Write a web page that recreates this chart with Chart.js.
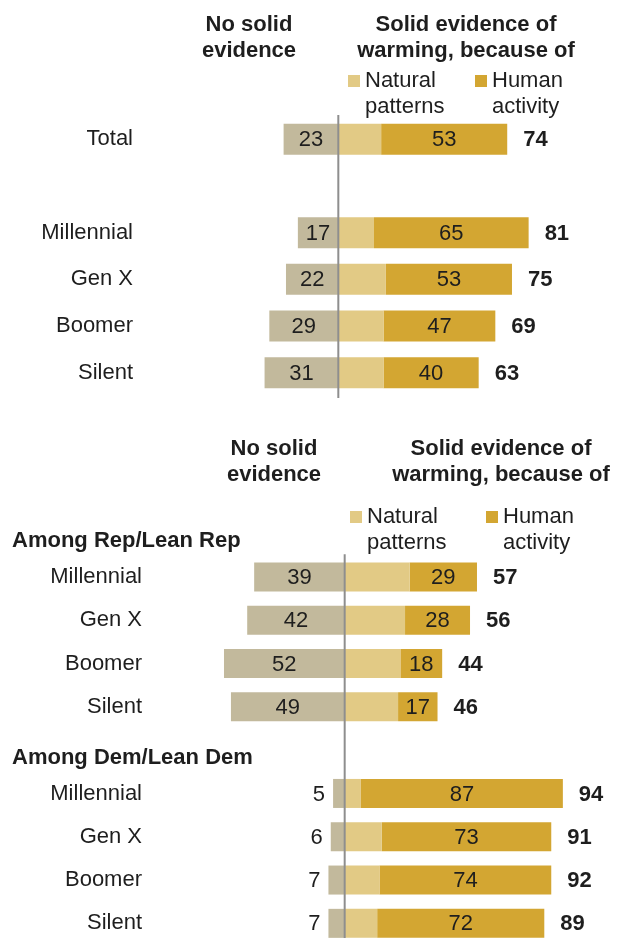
<!DOCTYPE html>
<html>
<head>
<meta charset="utf-8">
<script src="https://cdn.jsdelivr.net/npm/chart.js@4/dist/chart.umd.min.js"></script>
<style>
  html, body { margin: 0; padding: 0; background: #fff; overflow: hidden; }
  #wrap { position: relative; width: 623px; height: 938px; overflow: hidden; }
  #top { position: absolute; left: 0; top: 0; }
  #bottom { position: absolute; left: 0; top: 400px; }
</style>
</head>
<body>
<div id="wrap">
  <canvas id="top" width="623" height="400"></canvas>
  <canvas id="bottom" width="623" height="545"></canvas>
</div>
<script>
//Top panel: total and generations (empty row is the gap)
const topLabels = ["Total", "", "Millennial", "Gen X", "Boomer", "Silent"];
const topNoSolid = [23, null, 17, 22, 29, 31];
const topNatural = [18, null, 15, 20, 19, 19];
const topHuman = [53, null, 65, 53, 47, 40];
const topNet = [74, null, 81, 75, 69, 63];

//Bottom panel: by party (rows with no values are group headers)
const bottomLabels = ["Among Rep/Lean Rep", "Millennial", "Gen X", "Boomer", "Silent",
  "Among Dem/Lean Dem", "Millennial", "Gen X", "Boomer", "Silent"];
const bottomNoSolid = [null, 39, 42, 52, 49, null, 5, 6, 7, 7];
const bottomNatural = [null, 28, 26, 24, 23, null, 7, 16, 15, 14];
const bottomHuman = [null, 29, 28, 18, 17, null, 87, 73, 74, 72];
const bottomNet = [null, 57, 56, 44, 46, null, 94, 91, 92, 89];

//Column headings and legend text
const noSolidTitle = ["No solid", "evidence"];
const solidTitle = ["Solid evidence of", "warming, because of"];
const seriesNames = ["No solid evidence", "Natural patterns", "Human activity"];
const legendLines = [["Natural", "patterns"], ["Human", "activity"]];

const FONT = "'Liberation Sans', Arial, sans-serif";
const TEXT = "#1e1e1e";
const colors = ["#c2b99c", "#e2ca85", "#d3a632"];

//draws headings, legend, group headers, the zero line and the numbers
const panelPlugin = {
  id: "panel",
  afterDatasetsDraw(chart, args, opts) {
    const ctx = chart.ctx;
    const xs = chart.scales.x;
    const ys = chart.scales.y;
    const area = chart.chartArea;
    const slot = (area.bottom - area.top) / chart.data.labels.length;
    const zero = xs.getPixelForValue(0);
    ctx.save();

    //vertical line at zero
    const lineTop = ys.getPixelForValue(opts.lineFromRow) - slot / 2 - 1;
    ctx.strokeStyle = "#8e8e8e";
    ctx.lineWidth = 2;
    ctx.beginPath();
    ctx.moveTo(zero, lineTop);
    ctx.lineTo(zero, area.bottom + 2);
    ctx.stroke();

    //values inside (or beside) the segments
    ctx.fillStyle = TEXT;
    ctx.textBaseline = "middle";
    chart.data.datasets.forEach((ds, di) => {
      if (!ds.showValues) return;
      const meta = chart.getDatasetMeta(di);
      meta.data.forEach((bar, i) => {
        if (ds.data[i] == null) return;
        const left = Math.min(bar.x, bar.base);
        const right = Math.max(bar.x, bar.base);
        const txt = String(Math.abs(ds.data[i]));
        ctx.font = "22px " + FONT;
        if (right - left < 24) {
          ctx.textAlign = "right";
          ctx.fillText(txt, left - 8, bar.y + 1);
        } else {
          ctx.textAlign = "center";
          ctx.fillText(txt, (left + right) / 2, bar.y + 1);
        }
      });
    });

    //net totals to the right
    const last = chart.getDatasetMeta(chart.data.datasets.length - 1);
    ctx.font = "bold 22px " + FONT;
    ctx.textAlign = "left";
    opts.net.forEach((n, i) => {
      if (n == null) return;
      const bar = last.data[i];
      ctx.fillText(String(n), bar.x + 16, bar.y + 1);
    });

    //group headers
    ctx.textBaseline = "alphabetic";
    chart.data.labels.forEach((lab, i) => {
      if (lab && opts.noSolid[i] == null) {
        ctx.fillText(lab, 12, ys.getPixelForValue(i) + 13.5);
      }
    });

    //column headings
    ctx.textAlign = "center";
    const h = opts.head;
    noSolidTitle.forEach((t, k) => ctx.fillText(t, h.noSolidX, h.y + k * 26));
    solidTitle.forEach((t, k) => ctx.fillText(t, h.solidX, h.y + k * 26));

    //legend
    ctx.textAlign = "left";
    ctx.font = "22px " + FONT;
    [h.natX, h.humX].forEach((lx, k) => {
      ctx.fillStyle = colors[k + 1];
      ctx.fillRect(lx, h.legendY - 12, 12, 12);
      ctx.fillStyle = TEXT;
      legendLines[k].forEach((t, j) => ctx.fillText(t, lx + 17, h.legendY + j * 26));
    });
    ctx.restore();
  }
};

function makePanel(canvas, labels, noSolid, natural, human, net, o) {
  return new Chart(canvas, {
    type: "bar",
    plugins: [panelPlugin],
    data: {
      labels: labels,
      datasets: [
        { label: seriesNames[0], data: noSolid.map(v => v == null ? null : -v), backgroundColor: colors[0], showValues: true },
        { label: seriesNames[1], data: natural, backgroundColor: colors[1] },
        { label: seriesNames[2], data: human, backgroundColor: colors[2], showValues: true },
      ],
    },
    options: {
      indexAxis: "y",
      responsive: false,
      animation: false,
      layout: { padding: { top: o.padTop, bottom: o.padBottom, left: 0, right: 23 } },
      datasets: { bar: { barPercentage: o.barPct, categoryPercentage: 1, borderWidth: 0 } },
      scales: {
        x: { display: false, stacked: true, min: -80, max: 110 },
        y: {
          stacked: true,
          grid: { display: false, drawTicks: false },
          border: { display: false },
          ticks: {
            padding: o.axisWidth - o.labelRight,
            color: TEXT,
            font: { family: FONT, size: 22 },
            callback: function (v, i) { return noSolid[i] == null ? "" : this.getLabelForValue(v); },
          },
          afterFit: (s) => { s.width = o.axisWidth; s.paddingTop = 0; s.paddingBottom = 0; },
        },
      },
      plugins: {
        legend: { display: false },
        tooltip: { enabled: false },
        panel: { net: net, noSolid: noSolid, lineFromRow: o.lineFromRow, head: o.head },
      },
    },
  });
}

makePanel(document.getElementById("top"), topLabels, topNoSolid, topNatural, topHuman, topNet, {
  padTop: 116, padBottom: 4, barPct: 0.664, axisWidth: 148, labelRight: 133, lineFromRow: 0,
  head: { noSolidX: 249, solidX: 466, y: 31, legendY: 87, natX: 348, humX: 475 },
});

makePanel(document.getElementById("bottom"), bottomLabels, bottomNoSolid, bottomNatural, bottomHuman, bottomNet, {
  padTop: 112, padBottom: 0, barPct: 0.67, axisWidth: 159, labelRight: 142, lineFromRow: 1,
  head: { noSolidX: 274, solidX: 501, y: 55, legendY: 123, natX: 350, humX: 486 },
});
</script>
</body>
</html>
